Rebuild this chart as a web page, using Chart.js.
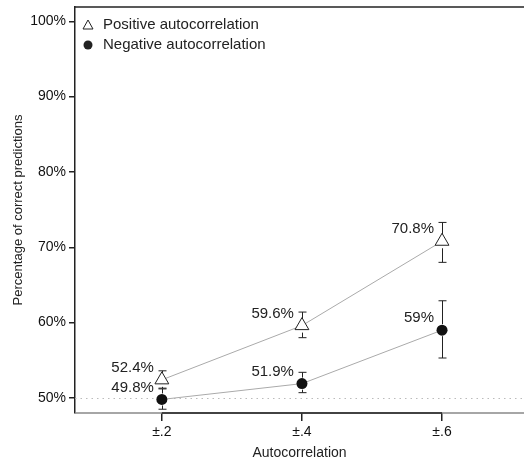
<!DOCTYPE html>
<html>
<head>
<meta charset="utf-8">
<script src="https://cdn.jsdelivr.net/npm/chart.js@4"></script>
<style>
  html, body { margin: 0; padding: 0; background: #fff; overflow: hidden; }
  #wrap { width: 524px; height: 466px; }
</style>
</head>
<body>
<div id="wrap"><canvas id="chart" width="524" height="466"></canvas></div>
<script>
// Data
const categories = ['±.2', '±.4', '±.6'];
const positiveValues = [52.4, 59.6, 70.8];
const positiveLow = [51.3, 58.0, 68.0];
const positiveHigh = [53.6, 61.4, 73.3];
const negativeValues = [49.8, 51.9, 59.0];
const negativeLow = [48.5, 50.7, 55.3];
const negativeHigh = [51.2, 53.4, 62.9];
const positiveLabels = ['52.4%', '59.6%', '70.8%'];
const negativeLabels = ['49.8%', '51.9%', '59%'];
const yTicks = [50, 60, 70, 80, 90, 100];
const legendLabels = ['Positive autocorrelation', 'Negative autocorrelation'];

const FONT = '"Liberation Sans", Arial, Helvetica, sans-serif';
const DARK = '#222';

const toPoints = vals => vals.map((v, i) => ({ x: i, y: v }));

// extra drawing: box lines, reference line, error bars, value labels, legend
const extras = {
  id: 'extras',
  beforeDatasetsDraw(chart) {
    const { ctx, chartArea: a, scales: { x, y } } = chart;
    ctx.save();
    // dotted 50% line
    ctx.strokeStyle = '#bbb';
    ctx.lineWidth = 1;
    ctx.setLineDash([1.5, 4]);
    const y50 = Math.round(y.getPixelForValue(50)) + 0.5;
    ctx.beginPath(); ctx.moveTo(a.left, y50); ctx.lineTo(a.right, y50); ctx.stroke();
    ctx.setLineDash([]);
    // top border
    ctx.strokeStyle = DARK;
    ctx.lineWidth = 1.5;
    ctx.beginPath(); ctx.moveTo(a.left, a.top); ctx.lineTo(a.right, a.top); ctx.stroke();
    // bottom line: grey box, dark axis between first and last tick
    ctx.strokeStyle = '#888';
    ctx.beginPath(); ctx.moveTo(a.left, a.bottom); ctx.lineTo(a.right, a.bottom); ctx.stroke();
    ctx.strokeStyle = DARK;
    ctx.beginPath();
    ctx.moveTo(x.getPixelForValue(0), a.bottom);
    ctx.lineTo(x.getPixelForValue(categories.length - 1), a.bottom);
    ctx.stroke();
    ctx.restore();
  },
  afterDatasetsDraw(chart) {
    const { ctx, chartArea: a, scales: { x, y } } = chart;
    ctx.save();
    // error bars
    const bars = (lo, hi, vals, gap) => {
      ctx.strokeStyle = DARK;
      ctx.lineWidth = 1;
      lo.forEach((l, i) => {
        const px = Math.round(x.getPixelForValue(i)) + 0.5;
        const pv = y.getPixelForValue(vals[i]);
        const pl = y.getPixelForValue(l);
        const ph = y.getPixelForValue(hi[i]);
        ctx.beginPath();
        if (ph < pv - gap) { ctx.moveTo(px, ph); ctx.lineTo(px, pv - gap); }
        if (pl > pv + gap) { ctx.moveTo(px, pv + gap); ctx.lineTo(px, pl); }
        ctx.moveTo(px - 4, ph); ctx.lineTo(px + 4, ph);
        ctx.moveTo(px - 4, pl); ctx.lineTo(px + 4, pl);
        ctx.stroke();
      });
    };
    bars(positiveLow, positiveHigh, positiveValues, 7);
    bars(negativeLow, negativeHigh, negativeValues, 6);
    // value labels
    ctx.fillStyle = DARK;
    ctx.font = '15px ' + FONT;
    ctx.textAlign = 'right';
    ctx.textBaseline = 'middle';
    const labels = (vals, texts) => {
      vals.forEach((v, i) => {
        ctx.fillText(texts[i], x.getPixelForValue(i) - 8, y.getPixelForValue(v) - 12);
      });
    };
    labels(positiveValues, positiveLabels);
    labels(negativeValues, negativeLabels);
    // legend
    ctx.textAlign = 'left';
    const lx = a.left + 13, ly = a.top + 18;
    ctx.strokeStyle = DARK; ctx.fillStyle = '#fff'; ctx.lineWidth = 1;
    ctx.beginPath();
    ctx.moveTo(lx, ly - 5); ctx.lineTo(lx + 5, ly + 4); ctx.lineTo(lx - 5, ly + 4); ctx.closePath();
    ctx.fill(); ctx.stroke();
    ctx.fillStyle = DARK;
    ctx.beginPath(); ctx.arc(lx, ly + 20, 4.5, 0, Math.PI * 2); ctx.fill();
    ctx.fillText(legendLabels[0], lx + 15, ly);
    ctx.fillText(legendLabels[1], lx + 15, ly + 20);
    ctx.restore();
  }
};

// only the category positions get a tick mark
const tickColor = c => (c.tick && categories[c.tick.value] !== undefined) ? DARK : 'rgba(0,0,0,0)';

new Chart(document.getElementById('chart'), {
  type: 'line',
  data: {
    datasets: [{
      label: legendLabels[0],
      data: toPoints(positiveValues),
      borderColor: '#aaa',
      borderWidth: 1,
      pointStyle: 'triangle',
      pointRadius: 8,
      pointBackgroundColor: '#fff',
      pointBorderColor: DARK,
      pointBorderWidth: 1
    }, {
      label: legendLabels[1],
      data: toPoints(negativeValues),
      borderColor: '#aaa',
      borderWidth: 1,
      pointStyle: 'circle',
      pointRadius: 5.5,
      pointBackgroundColor: '#111',
      pointBorderColor: '#111',
      pointBorderWidth: 0
    }]
  },
  options: {
    responsive: false,
    animation: false,
    layout: { autoPadding: false, padding: { left: 0, right: 0, top: 7, bottom: 0 } },
    plugins: { legend: { display: false }, tooltip: { enabled: false } },
    scales: {
      x: {
        type: 'linear',
        min: -0.62,
        max: 2.585,
        afterBuildTicks: s => { s.ticks = categories.map((c, i) => ({ value: i })); },
        afterFit: s => { s.height = 53; s.paddingLeft = 0; s.paddingRight = 0; },
        ticks: {
          callback: v => categories[v],
          color: '#111',
          font: { family: FONT, size: 14 },
          padding: 3,
          maxRotation: 0
        },
        grid: { drawOnChartArea: false, drawTicks: true, tickLength: 8, color: tickColor, lineWidth: 1.5 },
        border: { display: false },
        title: { display: true, text: 'Autocorrelation', color: DARK, font: { family: FONT, size: 14 }, padding: { top: 4 } }
      },
      y: {
        min: 48,
        max: 101.9,
        afterBuildTicks: s => { s.ticks = yTicks.map(v => ({ value: v })); },
        afterFit: s => { s.width = 75; s.paddingTop = 0; s.paddingBottom = 0; },
        ticks: {
          callback: v => v + '%',
          color: '#111',
          font: { family: FONT, size: 14 },
          padding: 3
        },
        grid: { drawOnChartArea: false, drawTicks: true, tickLength: 6, color: DARK, lineWidth: 1.5 },
        border: { display: true, color: DARK, width: 1.5 },
        title: { display: true, text: 'Percentage of correct predictions', color: DARK, font: { family: FONT, size: 13 }, padding: { top: 11, bottom: 0 } }
      }
    }
  },
  plugins: [extras]
});
</script>
</body>
</html>
